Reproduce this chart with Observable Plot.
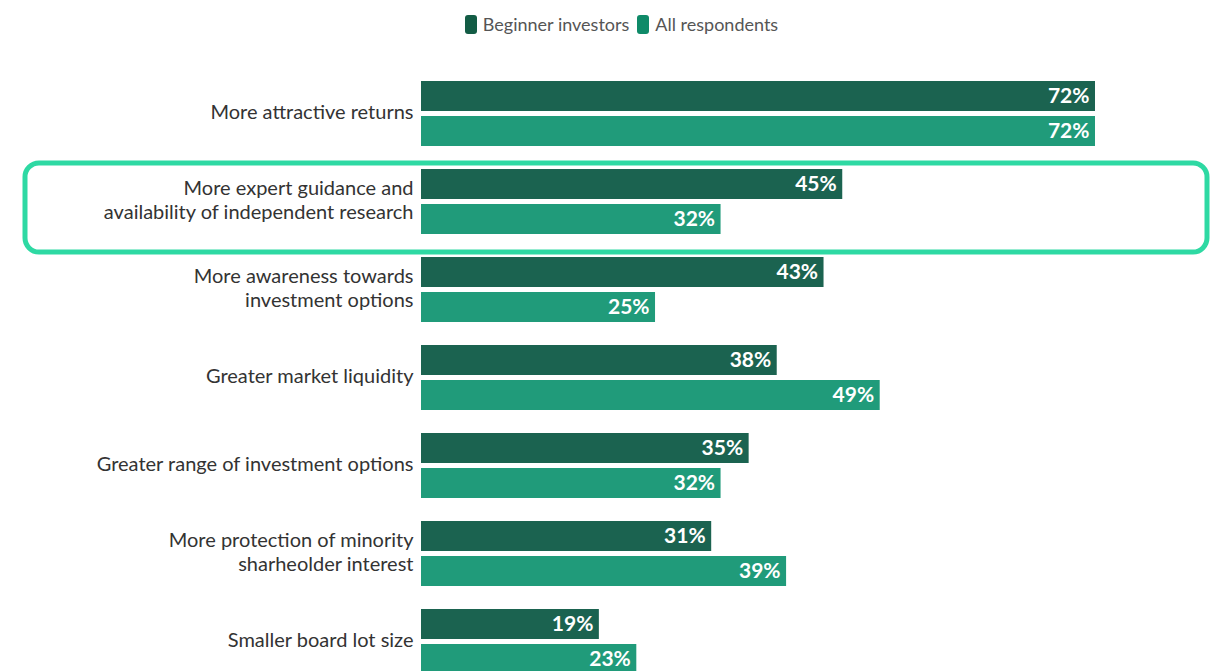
<!DOCTYPE html>
<html>
<head>
<meta charset="utf-8">
<script src="https://cdn.jsdelivr.net/npm/d3@7"></script>
<script src="https://cdn.jsdelivr.net/npm/@observablehq/plot@0.6"></script>
<style>
  html, body { margin: 0; padding: 0; background: #fff; width: 1213px; height: 671px; overflow: hidden; }
  #legend { height: 48px; display: flex; justify-content: center; align-items: center; font-family: Lato, "Noto Sans", sans-serif; font-size: 18px; color: #555; padding-left: 38px; box-sizing: border-box; }
  .sw { display: inline-block; width: 12px; height: 19px; border-radius: 3px; margin-right: 6px; }
  .item { display: inline-flex; align-items: center; margin-right: 8px; }
</style>
</head>
<body>
<div id="legend"></div>
<div id="chart"></div>
<script>
const categories = [
  "More attractive returns",
  "More expert guidance and\navailability of independent research",
  "More awareness towards\ninvestment options",
  "Greater market liquidity",
  "Greater range of investment options",
  "More protection of minority\nsharheolder interest",
  "Smaller board lot size"
];
const seriesNames = ["Beginner investors", "All respondents"];
const beginner = [72, 45, 43, 38, 35, 31, 19];
const allResp  = [72, 32, 25, 49, 32, 39, 23];
const highlighted = categories[1];

const barColors = ["#1b6350", "#209b7a"];
const legendColors = ["#135c45", "#0f8a68"];

const legend = document.getElementById("legend");
seriesNames.forEach((s, i) => {
  const it = document.createElement("span");
  it.className = "item";
  it.innerHTML = `<span class="sw" style="background:${legendColors[i]}"></span>${s}`;
  legend.appendChild(it);
});

const rows = [];
categories.forEach((c, i) => {
  rows.push({category: c, series: seriesNames[0], value: beginner[i]});
  rows.push({category: c, series: seriesNames[1], value: allResp[i]});
});
const rowsA = rows.filter(d => d.series === seriesNames[0]);
const rowsB = rows.filter(d => d.series === seriesNames[1]);
const maxV = d3.max(rows, d => d.value);

function highlightBox(index, scales, values, dimensions) {
  const y = scales.y;
  const y0 = y(highlighted);
  const bw = y.bandwidth ? y.bandwidth() : 65;
  const g = d3.create("svg:g");
  g.append("rect")
    .attr("x", 25)
    .attr("y", y0 - 6)
    .attr("width", dimensions.width - 6 - 25)
    .attr("height", bw + 24)
    .attr("rx", 14)
    .attr("fill", "none")
    .attr("stroke", "#2ed9a3")
    .attr("stroke-width", 5);
  return g.node();
}

const plot = Plot.plot({
  width: 1213,
  height: 626,
  marginLeft: 421,
  marginRight: 118,
  marginTop: 33,
  marginBottom: 0,
  style: {fontFamily: "Lato, 'Noto Sans', sans-serif", background: "transparent"},
  x: {domain: [0, maxV], axis: null},
  y: {domain: categories, axis: null, paddingInner: 23/88, paddingOuter: 0, round: false},
  marks: [
    Plot.barX(rowsA, {y: "category", x: "value", fill: barColors[0], insetBottom: 35}),
    Plot.barX(rowsB, {y: "category", x: "value", fill: barColors[1], insetTop: 35}),
    Plot.text(rowsA, {y: "category", x: "value", text: d => d.value + "%", dy: -17.5, dx: -6, textAnchor: "end", fill: "white", fontWeight: "bold", fontSize: 21}),
    Plot.text(rowsB, {y: "category", x: "value", text: d => d.value + "%", dy: 17.5, dx: -6, textAnchor: "end", fill: "white", fontWeight: "bold", fontSize: 21}),
    Plot.text(categories, {y: d => d, x: 0, text: d => d, dx: -8, dy: -3, textAnchor: "end", fill: "#333", fontSize: 20, lineHeight: 1.2}),
    highlightBox
  ]
});
document.getElementById("chart").appendChild(plot);
</script>
</body>
</html>
